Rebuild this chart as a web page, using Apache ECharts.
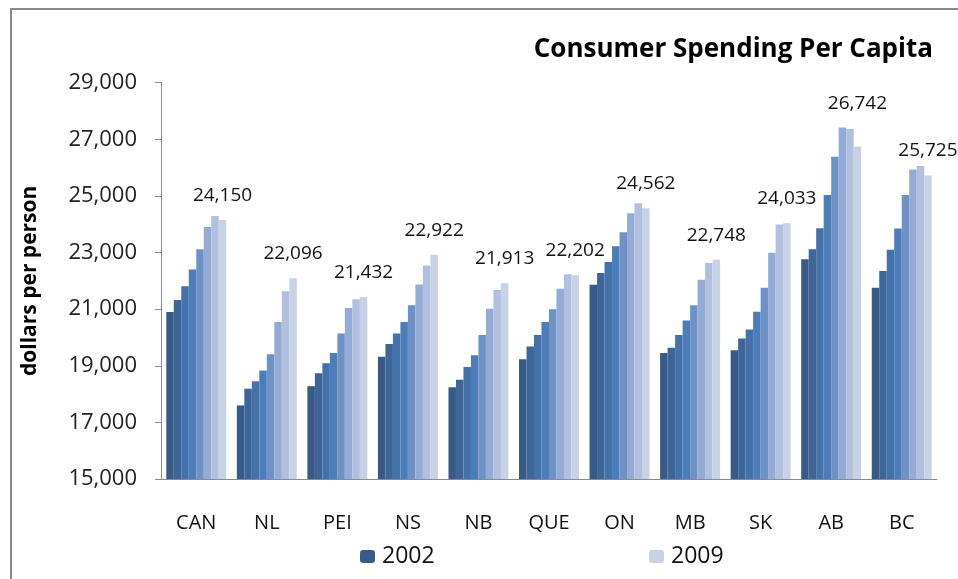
<!DOCTYPE html>
<html>
<head>
<meta charset="utf-8">
<script src="https://cdn.jsdelivr.net/npm/echarts@6/dist/echarts.min.js"></script>
<style>
  html, body { margin: 0; padding: 0; background: #fff; }
  #chart { width: 958px; height: 579px; }
</style>
</head>
<body>
<div id="chart"></div>
<script>
const categories = ["CAN", "NL", "PEI", "NS", "NB", "QUE", "ON", "MB", "SK", "AB", "BC"];
const years = ["2002", "2003", "2004", "2005", "2006", "2007", "2008", "2009"];
const v2002 = [20900, 17600, 18280, 19320, 18240, 19230, 21860, 19450, 19550, 22760, 21760];
const v2003 = [21320, 18190, 18740, 19770, 18510, 19680, 22280, 19640, 19960, 23120, 22350];
const v2004 = [21810, 18450, 19090, 20140, 18960, 20090, 22670, 20090, 20280, 23860, 23100];
const v2005 = [22400, 18830, 19450, 20550, 19370, 20550, 23220, 20600, 20910, 25030, 23850];
const v2006 = [23120, 19410, 20140, 21140, 20090, 21000, 23720, 21140, 21760, 26380, 25030];
const v2007 = [23900, 20550, 21040, 21870, 21010, 21720, 24390, 22040, 22990, 27420, 25930];
const v2008 = [24290, 21630, 21350, 22540, 21680, 22230, 24740, 22630, 23990, 27360, 26060];
const v2009 = [24150, 22096, 21432, 22922, 21913, 22202, 24562, 22748, 24033, 26742, 25725];
const yTicks = [15000, 29000, 2000];

const values = [v2002, v2003, v2004, v2005, v2006, v2007, v2008, v2009];
const colors = ["#375a88", "#3d6598", "#4471a9", "#4b7db9", "#6e92c6", "#93abd5", "#b0c0de", "#c8d2e7"];
const FONT = "Open Sans";
const fmt = (n) => n.toLocaleString("en-US");

const chart = echarts.init(document.getElementById("chart"));

const legendBase = {
  top: 540,
  itemWidth: 15,
  itemHeight: 13,
  itemGap: 6,
  textStyle: { fontFamily: FONT, fontSize: 23, color: "#111", padding: [0, 0, 0, 2] }
};

// the 2009 label of AB sits higher, clear of the taller 2007/2008 bars
const labelFor = (value, index) => index === 9
  ? { value, label: { distance: 34 } }
  : value;

chart.setOption({
  animation: false,
  textStyle: { fontFamily: FONT },
  title: {
    text: "Consumer Spending Per Capita",
    right: 20,
    top: 32,
    textStyle: { fontFamily: FONT, fontSize: 26, fontWeight: "bold", color: "#000" }
  },
  graphic: [{
    type: "rect",
    shape: { x: 11, y: 9, width: 1200, height: 1200 },
    style: { fill: "none", stroke: "#8a8a8a", lineWidth: 2 },
    silent: true
  }],
  legend: [
    { ...legendBase, data: ["2002"], left: 355 },
    { ...legendBase, data: ["2009"], left: 644 }
  ],
  grid: { left: 161, right: 21, top: 82.7, bottom: 100 },
  xAxis: {
    type: "category",
    data: categories,
    axisLine: { lineStyle: { color: "#8a8a8a", width: 1 } },
    axisTick: { length: 7, lineStyle: { color: "#8a8a8a" } },
    axisLabel: { color: "#111", fontSize: 20, margin: 34, fontFamily: FONT }
  },
  yAxis: {
    type: "value",
    min: yTicks[0],
    max: yTicks[1],
    interval: yTicks[2],
    name: "dollars per person",
    nameLocation: "middle",
    nameGap: 120,
    nameTextStyle: { fontFamily: FONT, fontSize: 21, fontWeight: "bold", color: "#000" },
    axisLine: { show: true, lineStyle: { color: "#8a8a8a" } },
    axisTick: { show: true, length: 6, lineStyle: { color: "#8a8a8a" } },
    splitLine: { show: false },
    axisLabel: { color: "#222", fontSize: 22, margin: 24, fontFamily: FONT, formatter: (v) => fmt(v) }
  },
  series: years.map((year, i) => ({
    name: year,
    type: "bar",
    data: i === years.length - 1 ? values[i].map(labelFor) : values[i],
    barGap: "0%",
    barCategoryGap: "15%",
    itemStyle: { color: colors[i] },
    label: i === years.length - 1 ? {
      show: true,
      position: "top",
      distance: 15,
      color: "#111",
      fontSize: 19,
      fontFamily: FONT,
      formatter: ({ value }) => fmt(value)
    } : { show: false }
  }))
});
</script>
</body>
</html>
